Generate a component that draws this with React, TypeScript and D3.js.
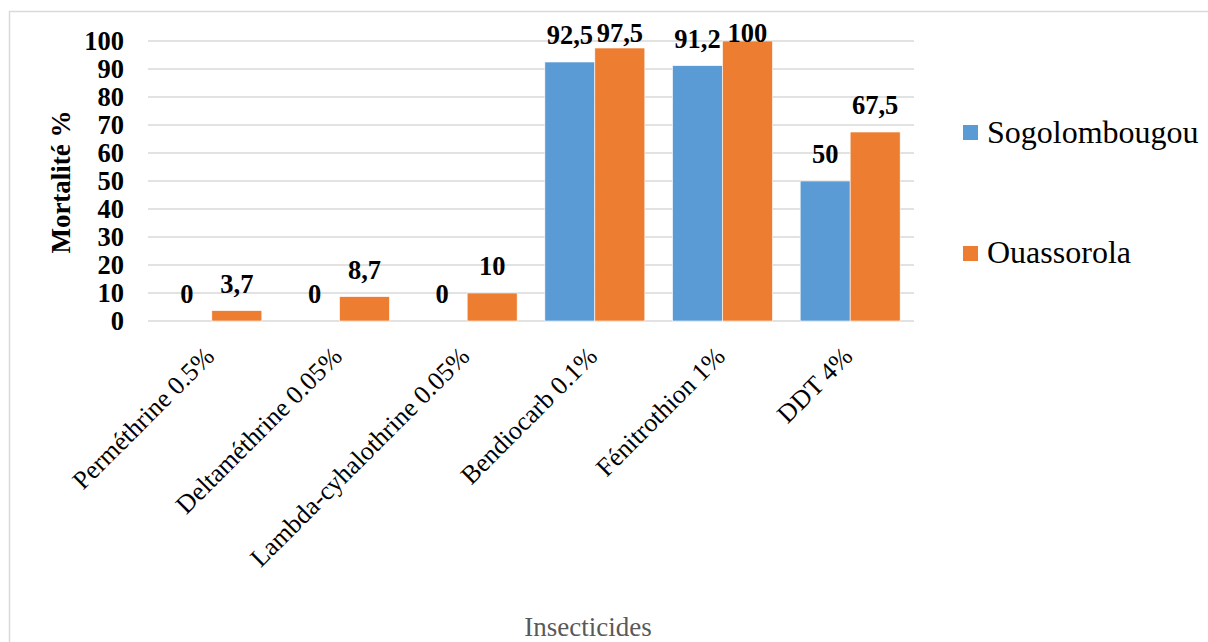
import React from "react";
import * as d3 from "d3";

const categories = [
  "Perméthrine 0.5%",
  "Deltaméthrine 0.05%",
  "Lambda-cyhalothrine 0.05%",
  "Bendiocarb 0.1%",
  "Fénitrothion 1%",
  "DDT 4%",
];
const seriesNames = ["Sogolombougou", "Ouassorola"];
const sogolombougou = [0, 0, 0, 92.5, 91.2, 50];
const ouassorola = [3.7, 8.7, 10, 97.5, 100, 67.5];
const yTicks = [0, 10, 20, 30, 40, 50, 60, 70, 80, 90, 100];
const colors = ["#5B9BD5", "#ED7D31"];

const W = 1208;
const H = 642;
const FONT = "'Liberation Serif', 'Times New Roman', serif";

export default function App() {
  const left = 148;
  const right = 914;
  const top = 41;
  const bottom = 321;
  const x = d3.scaleBand<string>().domain(categories).range([left, right]).paddingInner(0.217).paddingOuter(0.1085);
  const x1 = d3.scaleBand<string>().domain(seriesNames).range([0, x.bandwidth()]);
  const y = d3.scaleLinear().domain([0, 100]).range([bottom, top]);
  const series = [sogolombougou, ouassorola];
  const fmt = (v: number) => String(v).replace(".", ",");

  return (
    <svg width={W} height={H} style={{ position: "absolute", left: 0, top: 0, background: "#fff" }}>
      <rect x={9.5} y={11.5} width={1300} height={800} fill="#fff" stroke="#d9d9d9" strokeWidth={1.5} />
      {yTicks.map((t) => (
        <g key={t}>
          <line x1={left} x2={right} y1={y(t)} y2={y(t)} stroke="#d9d9d9" strokeWidth={1.3} />
          <text x={124} y={y(t)} dy="0.34em" textAnchor="end" fontFamily={FONT} fontWeight="bold" fontSize={26.5} fill="#000">
            {t}
          </text>
        </g>
      ))}
      {series.map((vals, si) =>
        vals.map((v, i) => {
          const bx = (x(categories[i]) as number) + (x1(seriesNames[si]) as number);
          return (
            <rect
              key={`b${si}-${i}`}
              x={bx}
              y={y(v)}
              width={x1.bandwidth()}
              height={bottom - y(v)}
              fill={colors[si]}
              stroke="#fff"
              strokeWidth={0.6}
            />
          );
        })
      )}
      {series.map((vals, si) =>
        vals.map((v, i) => {
          const cx = (x(categories[i]) as number) + (x1(seriesNames[si]) as number) + x1.bandwidth() / 2;
          const by = Math.max(y(v) - 18, 42);
          return (
            <text
              key={`l${si}-${i}`}
              x={cx}
              y={by}
              textAnchor="middle"
              fontFamily={FONT}
              fontWeight="bold"
              fontSize={26.5}
              fill="#000"
            >
              {fmt(v)}
            </text>
          );
        })
      )}
      {categories.map((c) => {
        const cx = (x(c) as number) + x.bandwidth() / 2;
        return (
          <text
            key={c}
            transform={`translate(${cx + 4},${358}) rotate(-45)`}
            textAnchor="end"
            fontFamily={FONT}
            fontSize={26}
            fill="#000"
          >
            {c}
          </text>
        );
      })}
      <text
        transform={`translate(${70},${182}) rotate(-90)`}
        textAnchor="middle"
        fontFamily={FONT}
        fontWeight="bold"
        fontSize={27}
        fill="#000"
      >
        Mortalité %
      </text>
      <text x={588} y={636} textAnchor="middle" fontFamily={FONT} fontSize={27} fill="#595959">
        Insecticides
      </text>
      {seriesNames.map((s, i) => (
        <g key={s}>
          <rect x={963} y={125 + i * 121} width={15} height={15} fill={colors[i]} />
          <text x={987} y={143 + i * 120} fontFamily={FONT} fontSize={32} fill="#000">
            {s}
          </text>
        </g>
      ))}
    </svg>
  );
}
